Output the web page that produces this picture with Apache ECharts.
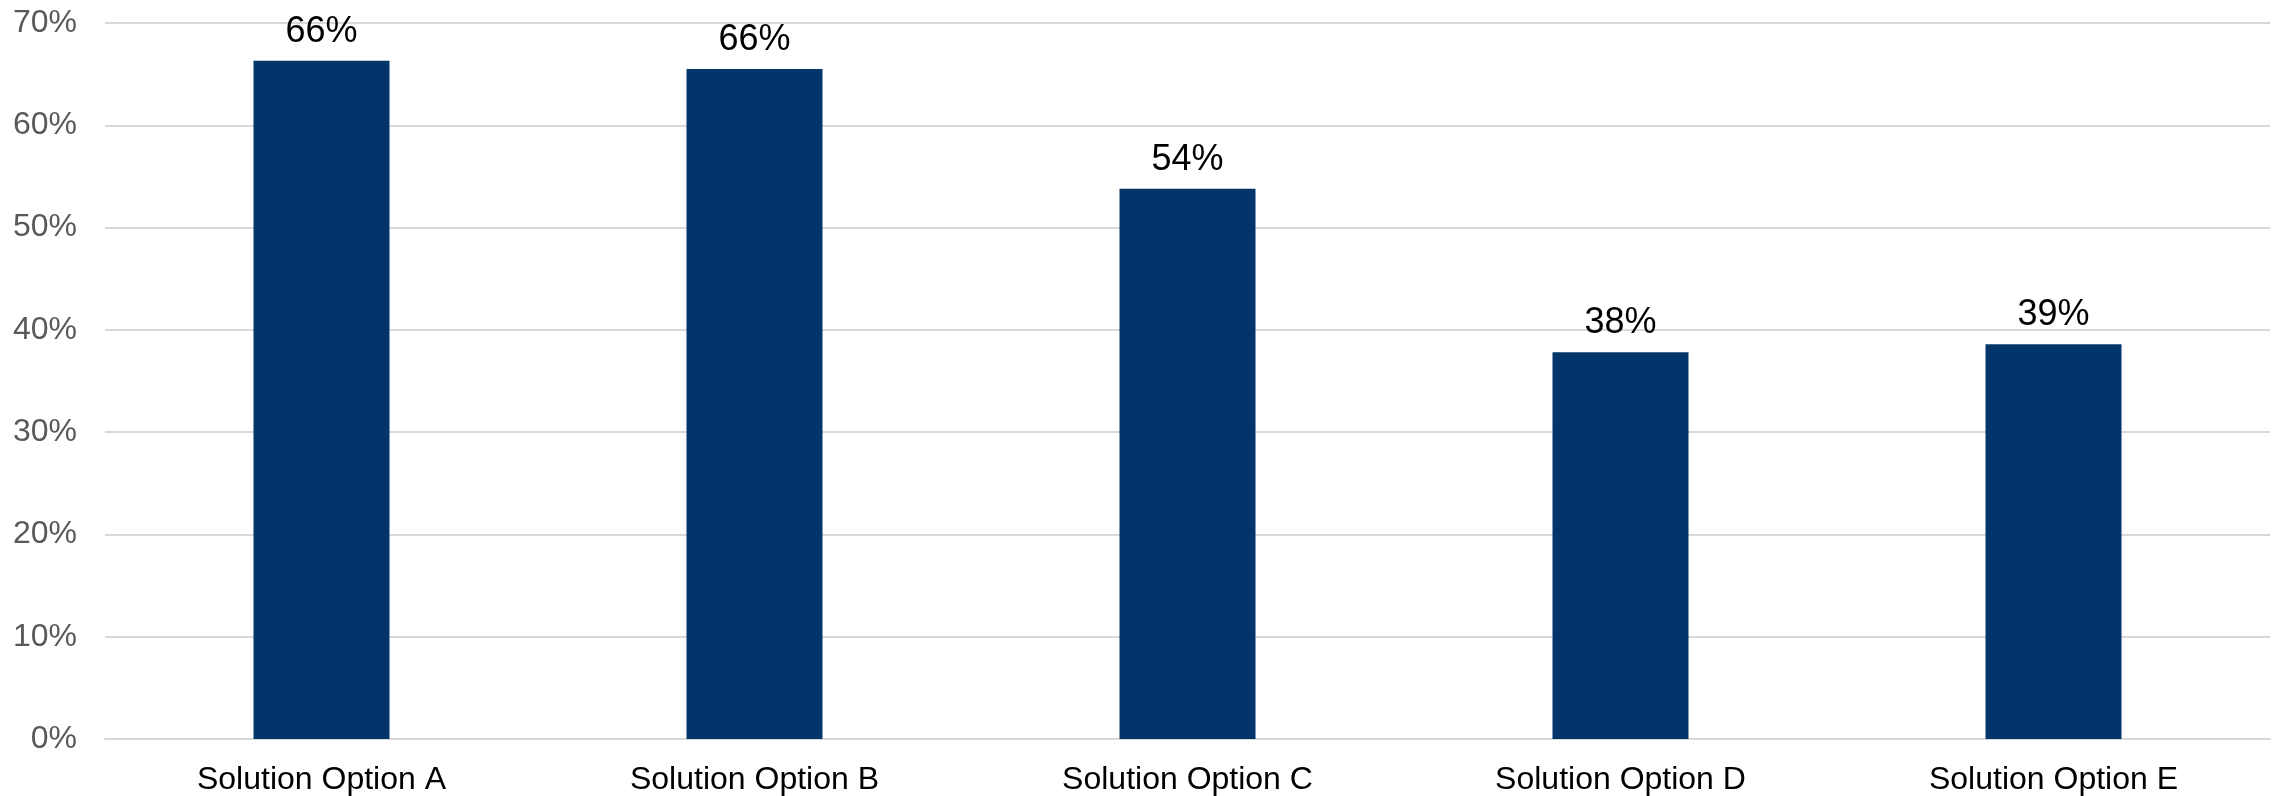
<!DOCTYPE html>
<html>
<head>
<meta charset="utf-8">
<script src="https://cdn.jsdelivr.net/npm/echarts@6/dist/echarts.min.js"></script>
<style>
html,body{margin:0;padding:0;background:#fff;}
#chart{width:2275px;height:796px;}
</style>
</head>
<body>
<div id="chart"></div>
<script>
const categories = ['Solution Option A', 'Solution Option B', 'Solution Option C', 'Solution Option D', 'Solution Option E'];
const values = [66.3, 65.5, 53.8, 37.8, 38.6];
const valueLabels = ['66%', '66%', '54%', '38%', '39%'];
const yTicks = [0, 10, 20, 30, 40, 50, 60, 70];

const chart = echarts.init(document.getElementById('chart'), null, {renderer: 'canvas'});
chart.setOption({
  animation: false,
  backgroundColor: '#ffffff',
  textStyle: {fontFamily: '"Liberation Sans", Arial, sans-serif'},
  grid: {left: 105, right: 5, top: 23, bottom: 56, containLabel: false},
  xAxis: {
    type: 'category',
    data: categories,
    axisLine: {show: true, lineStyle: {color: '#d9d9d9', width: 2}},
    axisTick: {show: false},
    axisLabel: {color: '#000000', fontSize: 32, margin: 25, fontFamily: '"Liberation Sans", Arial, sans-serif'}
  },
  yAxis: {
    type: 'value',
    min: yTicks[0],
    max: yTicks[yTicks.length - 1],
    interval: 10,
    axisLine: {show: false},
    axisTick: {show: false},
    splitLine: {lineStyle: {color: '#d9d9d9', width: 2}},
    axisLabel: {color: '#595959', fontSize: 32, margin: 28, formatter: '{value}%', fontFamily: '"Liberation Sans", Arial, sans-serif'}
  },
  series: [{
    type: 'bar',
    data: values,
    barWidth: 136,
    itemStyle: {color: '#03346a'},
    label: {
      show: true,
      position: 'top',
      distance: 11,
      color: '#000000',
      fontSize: 36,
      fontFamily: '"Liberation Sans", Arial, sans-serif',
      formatter: p => valueLabels[p.dataIndex]
    }
  }]
});
</script>
</body>
</html>
